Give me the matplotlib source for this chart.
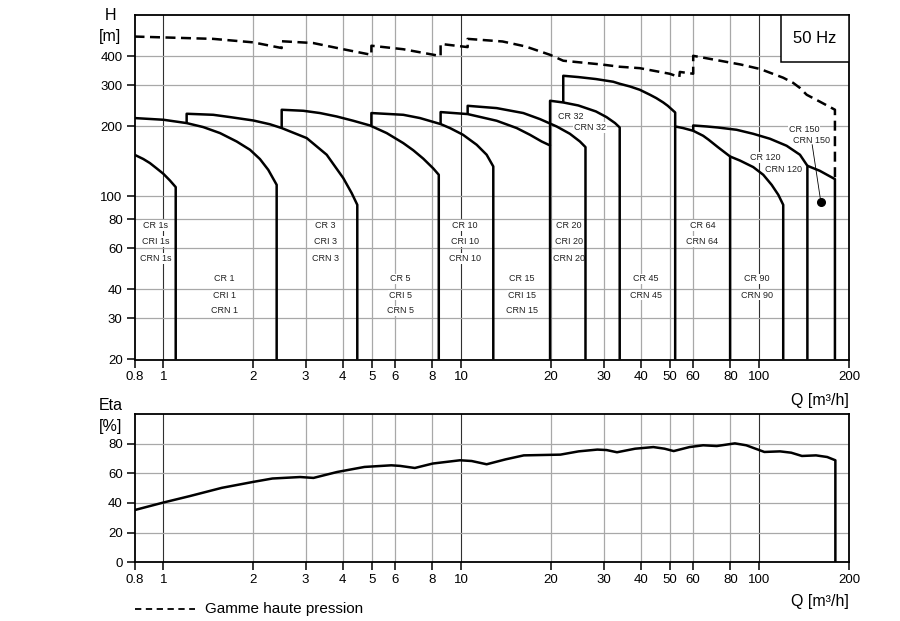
import matplotlib
matplotlib.use('Agg')
import matplotlib.pyplot as plt
from matplotlib.lines import Line2D
from matplotlib.patches import Rectangle
from matplotlib.ticker import FixedLocator, FixedFormatter, NullLocator

plt.rcParams['font.family'] = ['Liberation Sans', 'DejaVu Sans']

# ---------------- data ----------------
x_ticks = [0.8, 1, 2, 3, 4, 5, 6, 8, 10, 20, 30, 40, 50, 60, 80, 100, 200]
x_labels = ['0.8', '1', '2', '3', '4', '5', '6', '8', '10', '20', '30', '40',
            '50', '60', '80', '100', '200']
h_ticks = [20, 30, 40, 60, 80, 100, 200, 300, 400]
eta_ticks = [0, 20, 40, 60, 80]

q_cr1s = [0.8, 0.856, 0.901, 0.947, 1.0, 1.052, 1.10, 1.10]
h_cr1s = [151, 144.8, 139.1, 132.3, 125.1, 117.1, 109.7, 20]

q_cr1 = [0.8, 1.0, 1.197, 1.361, 1.549, 1.762, 1.953, 2.109, 2.249, 2.40, 2.40]
h_cr1 = [216.9, 213.3, 206.4, 198.4, 187.0, 172.1, 158.6, 144.7, 130.1, 112.2, 20]

q_cr3 = [1.197, 1.197, 1.470, 1.673, 2.003, 2.279, 2.495, 3.027, 3.533, 4.016,
         4.285, 4.475, 4.475]
h_cr3 = [206.4, 226.3, 224.0, 219.0, 211.8, 204.0, 196.5, 178.0, 151.0, 119.9,
         103.4, 92.1, 20]

q_cr5 = [2.495, 2.495, 2.947, 3.355, 3.817, 4.338, 4.936, 5.617, 6.384, 6.898,
         7.451, 8.05, 8.4, 8.4]
h_cr5 = [196.5, 235.4, 233.1, 227.9, 220.3, 211.2, 201.6, 187.0, 169.4, 157.8,
         145.3, 131.9, 123.9, 20]

q_cr10 = [4.99, 4.99, 6.384, 7.264, 8.52, 9.16, 10.13, 11.26, 12.16, 12.8, 12.8]
h_cr10 = [201.6, 227.9, 224.0, 216.9, 204.4, 196.5, 183.9, 166.6, 151.0, 134.5, 20]

q_cr15 = [8.52, 8.52, 10.5, 13.14, 15.34, 16.99, 18.6, 19.85, 19.85]
h_cr15 = [204.4, 230.1, 225.6, 211.2, 196.5, 183.9, 172.1, 165.5, 20]

q_cr20 = [10.5, 10.5, 13.14, 16.14, 18.36, 20.89, 23.14, 25.0, 26.1, 26.1]
h_cr20 = [225.6, 244.8, 239.3, 227.9, 214.7, 199.6, 185.7, 172.1, 162.8, 20]

q_cr32 = [19.85, 19.85, 21.98, 24.7, 28.3, 30.7, 32.8, 34.0, 34.0]
h_cr32 = [165.5, 257.3, 253.0, 245.6, 231.5, 219.0, 206.4, 197.6, 20]

q_cr45 = [21.98, 21.98, 24.7, 28.3, 32.35, 34.0, 36.8, 39.7, 42.96, 45.1, 47.6,
          49.3, 52.2, 52.2]
h_cr45 = [253.0, 329.3, 325.1, 318.8, 310.4, 304.3, 296.3, 286.8, 273.0, 264.2,
          253.0, 244.8, 229.2, 20]

q_cr64 = [52.2, 55.5, 60.0, 64.8, 67.6, 72.6, 79.8, 79.8]
h_cr64 = [199.6, 196.5, 191.3, 182.1, 175.1, 162.8, 148.4, 20]

q_cr90 = [79.8, 86.1, 95.4, 103.1, 110, 115.8, 120.3, 120.3]
h_cr90 = [148.4, 142.6, 133.7, 123.9, 112.2, 101.7, 92.1, 20]

q_cr120 = [60.0, 60.0, 66.6, 72.6, 83.9, 95.4, 108.6, 123.5, 136.9, 145, 145]
h_cr120 = [191.3, 201.6, 199.6, 197.6, 193.2, 185.7, 176.8, 165.0, 151.0, 135.4, 20]

q_cr150 = [145, 159.5, 179.4, 179.4]
h_cr150 = [135.4, 128.9, 118.7, 20]

# high-pressure range (dashed)
q_hp = [0.8, 1.47, 2.0, 2.495, 2.495, 3.18, 4.01, 4.99, 4.99, 6.38, 8.52, 8.52,
        10.5, 10.5, 13.75, 16.4, 19.85, 21.98, 29.6, 34.0, 39.7, 50.0, 53.9,
        54.1, 60.0, 60.0, 86.6, 100.7, 120.3, 129.9, 136.9, 144.2, 159.7,
        179.4, 179.4]
h_hp = [485, 474, 458, 433, 463, 455, 428, 405, 443, 428, 400, 451,
        437, 474, 462, 440, 405, 382, 368, 360, 355, 336, 325,
        342, 336, 401, 368, 352, 323, 307, 292, 273, 255,
        235.5, 118.7]

# CR 150 single point
q_dot = [160.9]
h_dot = [94.6]

# efficiency
q_eta = [0.8, 1.0, 1.224, 1.57, 2.0, 2.322, 2.877, 3.19, 3.83, 4.73, 5.82,
         6.23, 6.98, 8.02, 9.9, 10.83, 12.16, 14.07, 16.2, 21.5, 24.75, 28.6,
         30.7, 33.3, 38.3, 44.1, 48.1, 51.6, 58.3, 64.8, 72, 82.8, 90.4, 104,
         117.4, 128, 139, 155, 169, 180, 180]
eta = [35.2, 40.3, 44.6, 50.2, 54.2, 56.5, 57.5, 56.9, 60.9, 64.3, 65.4,
       65, 63.6, 66.6, 68.8, 68.3, 66.1, 69.4, 72.1, 72.6, 74.8, 76,
       75.7, 74.2, 76.6, 77.7, 76.6, 75, 77.7, 78.9, 78.4, 80.2, 78.9, 74.4,
       74.8, 73.9, 71.7, 72.1, 71, 68.8, 0]

curves = [(q_cr1s, h_cr1s), (q_cr1, h_cr1), (q_cr3, h_cr3), (q_cr5, h_cr5),
          (q_cr10, h_cr10), (q_cr15, h_cr15), (q_cr20, h_cr20),
          (q_cr32, h_cr32), (q_cr45, h_cr45), (q_cr64, h_cr64),
          (q_cr90, h_cr90), (q_cr120, h_cr120), (q_cr150, h_cr150)]

# model labels: (lines, q centre, row set)
upper_rows = [75.1, 64.1, 54.1]
lower_rows = [44.3, 37.8, 32.3]
model_labels = [
    (['CR 1s', 'CRI 1s', 'CRN 1s'], 0.943, upper_rows),
    (['CR 1', 'CRI 1', 'CRN 1'], 1.598, lower_rows),
    (['CR 3', 'CRI 3', 'CRN 3'], 3.49, upper_rows),
    (['CR 5', 'CRI 5', 'CRN 5'], 6.23, lower_rows),
    (['CR 10', 'CRI 10', 'CRN 10'], 10.26, upper_rows),
    (['CR 15', 'CRI 15', 'CRN 15'], 15.97, lower_rows),
    (['CR 20', 'CRI 20', 'CRN 20'], 22.9, upper_rows),
    (['CR 45', 'CRN 45'], 41.6, lower_rows),
    (['CR 64', 'CRN 64'], 64.4, upper_rows),
    (['CR 90', 'CRN 90'], 98.2, lower_rows),
]
free_labels = [('CR 32', 23.3, 220.7), ('CRN 32', 27.0, 198),
               ('CR 120', 105, 147), ('CRN 120', 120.3, 131),
               ('CR 150', 141.4, 194.6), ('CRN 150', 150.2, 173.4)]

# ---------------- figure ----------------
W, H = 900, 621
fig = plt.figure(figsize=(W / 100, H / 100), dpi=100)
ax1 = fig.add_axes([134.5 / W, 1 - 359.5 / H, 714.5 / W, 344.5 / H])
ax2 = fig.add_axes([134.5 / W, 1 - 562.3 / H, 714.5 / W, 148.3 / H])

grid_gray = '#a8a8a8'


def setup_x(ax):
    ax.set_xscale('log')
    ax.set_xlim(0.8, 200)
    ax.xaxis.set_major_locator(FixedLocator(x_ticks))
    ax.xaxis.set_major_formatter(FixedFormatter(x_labels))
    ax.xaxis.set_minor_locator(NullLocator())
    for xv in x_ticks[1:-1]:
        dec = xv in (1, 10, 100)
        ax.axvline(xv, color='#303030' if dec else grid_gray,
                   lw=0.8 if dec else 0.9, zorder=1)
    ax.tick_params(axis='both', which='major', direction='out', length=5.5,
                   width=1.1, labelsize=9.5, pad=3, color='black')
    for sp in ax.spines.values():
        sp.set_linewidth(1.3)
        sp.set_zorder(5)


setup_x(ax1)
ax1.set_yscale('log')
ax1.set_ylim(20, 600)
ax1.yaxis.set_major_locator(FixedLocator(h_ticks))
ax1.yaxis.set_major_formatter(FixedFormatter([str(v) for v in h_ticks]))
ax1.yaxis.set_minor_locator(NullLocator())
for yv in h_ticks[1:]:
    ax1.axhline(yv, color=grid_gray, lw=0.9, zorder=1)

for q, h in curves:
    ax1.plot(q, h, color='black', lw=1.8, zorder=4, solid_joinstyle='round',
             solid_capstyle='butt')
ax1.plot(q_hp, h_hp, color='black', lw=1.8, ls=(0, (4, 2.2)), zorder=4)
ax1.plot(q_dot, h_dot, 'o', color='black', ms=5.5, zorder=5)
ax1.plot([q_dot[0], 150.5], [h_dot[0], 166.6], color='black', lw=0.6, zorder=4)

for lines, qc, rows in model_labels:
    for txt, yv in zip(lines, rows):
        ax1.text(qc, yv, txt, ha='center', va='center', fontsize=6.5,
                 color='#222222', zorder=3,
                 bbox=dict(facecolor='white', edgecolor='none', pad=0.6))
for txt, qc, yv in free_labels:
    ax1.text(qc, yv, txt, ha='center', va='center', fontsize=6.5,
             color='#222222', zorder=3,
             bbox=dict(facecolor='white', edgecolor='none', pad=0.6))

# 50 Hz box
ax1.add_patch(Rectangle((0.9044, 0.8636), 0.0956, 0.1364,
                        transform=ax1.transAxes, facecolor='white',
                        edgecolor='black', lw=1.1, zorder=6))
ax1.text(0.9522, 0.9318, '50 Hz', transform=ax1.transAxes, ha='center',
         va='center', fontsize=12, zorder=7)

# efficiency panel
setup_x(ax2)
ax2.set_ylim(0, 100)
ax2.yaxis.set_major_locator(FixedLocator(eta_ticks))
ax2.yaxis.set_major_formatter(FixedFormatter([str(v) for v in eta_ticks]))
for yv in eta_ticks[1:]:
    ax2.axhline(yv, color=grid_gray, lw=0.9, zorder=1)
ax2.plot(q_eta, eta, color='black', lw=1.8, zorder=4, solid_joinstyle='round')

# axis titles
fig.text(110.5 / W, 1 - 15 / H, 'H', ha='center', va='center', fontsize=11.5)
fig.text(110.5 / W, 1 - 36.7 / H, '[m]', ha='center', va='center', fontsize=11.5)
fig.text(110.5 / W, 1 - 405 / H, 'Eta', ha='center', va='center', fontsize=11.5)
fig.text(110.5 / W, 1 - 426 / H, '[%]', ha='center', va='center', fontsize=11.5)
fig.text(849 / W, 1 - 400 / H, 'Q [m³/h]', ha='right', va='center', fontsize=11.5)
fig.text(849 / W, 1 - 601.5 / H, 'Q [m³/h]', ha='right', va='center', fontsize=11.5)

# legend
fig.add_artist(Line2D([135 / W, 195 / W], [1 - 609.3 / H, 1 - 609.3 / H],
                      color='black', lw=1.3, ls=(0, (3.5, 2.5))))
fig.text(205 / W, 1 - 609.3 / H, 'Gamme haute pression', ha='left',
         va='center', fontsize=11)

fig.savefig('out.png', dpi=100)
